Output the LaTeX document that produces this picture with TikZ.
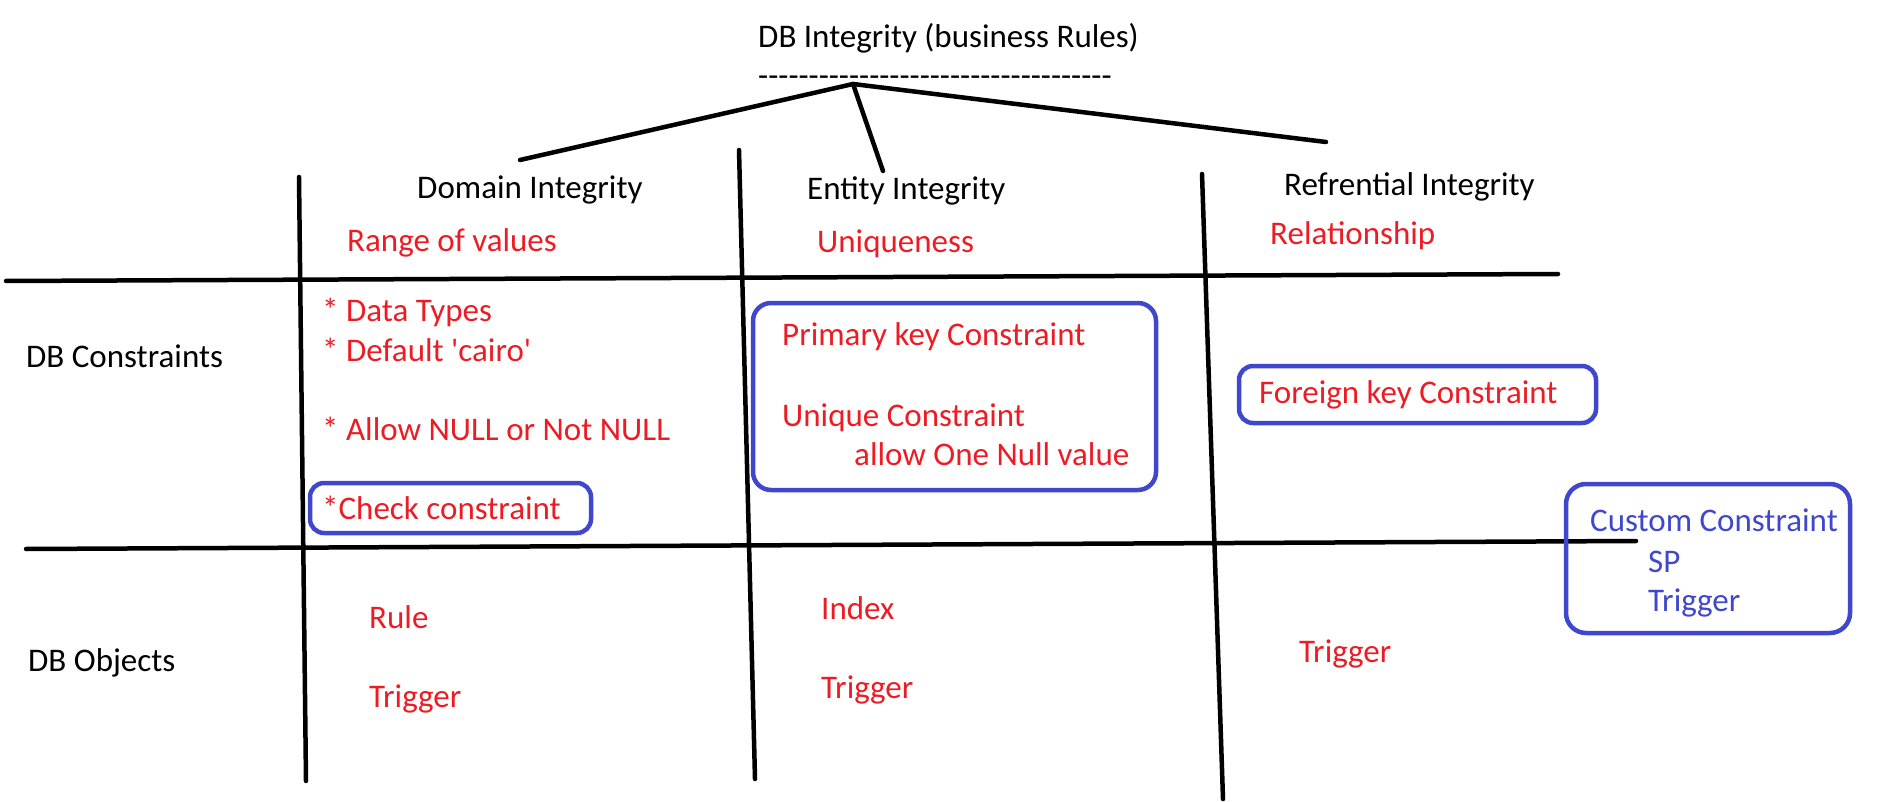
\documentclass[tikz,border=0pt]{standalone}
\usepackage{fontspec}
\newfontfamily\calfont{Carlito}
\definecolor{inkred}{RGB}{237,28,36}
\definecolor{inkblue}{RGB}{63,72,204}
\begin{document}
\begin{tikzpicture}[x=1pt,y=-1pt,
  every node/.style={font=\calfont\fontsize{33}{39}\selectfont, inner sep=0pt, anchor=base west},
  label/.style={text=black},
  item/.style={text=inkred},
  custom/.style={text=inkblue},
  rule/.style={draw=black, line width=4.5pt, line cap=round},
  frame/.style={draw=inkblue, line width=4.5pt, rounded corners=#1},
  frame/.default=16pt]
\useasboundingbox (0,0) rectangle (1884,802);

% title and its underline of hyphens
\node[label] (title) at (758,48) {DB Integrity (business Rules)};
\node[label] (underline) at (758,87) {\foreach \k in {1,...,35}{-\kern0pt}};

% column headings
\node[label] (domain) at (417,199) {Domain Integrity};
\node[label] (entity) at (807,200) {Entity Integrity};
\node[label] (refer)  at (1284,196) {Refrential Integrity};

% branches from the title to the headings
\coordinate (apex) at (853,84);
\coordinate (dtip) at (520,160);
\coordinate (etip) at (883,171);
\coordinate (rtip) at (1326,142);
\draw[rule] (dtip) -- (apex) -- (rtip);
\draw[rule] (apex) -- (etip);

% grid
\coordinate (v1a) at (299,177);  \coordinate (v1b) at (306,781);
\coordinate (v2a) at (739,150);  \coordinate (v2b) at (755,779);
\coordinate (v3a) at (1202,174); \coordinate (v3b) at (1223,799);
\coordinate (h1a) at (6,281);    \coordinate (h1b) at (1558,274);
\coordinate (h2a) at (26,549);   \coordinate (h2b) at (1636,541);
\draw[rule] (v1a) -- (v1b);
\draw[rule] (v2a) -- (v2b);
\draw[rule] (v3a) -- (v3b);
\draw[rule] (h1a) -- (h1b);
\draw[rule] (h2a) -- (h2b);

% row headings
\node[label] (cons) at (26,367) {DB Constraints};
\node[label] (objs) at (28,671) {DB Objects};

% integrity meaning
\node[item] (range)  at (347,252) {Range of values};
\node[item] (uniq)   at (817,253) {Uniqueness};
\node[item] (relat)  at (1270,245) {Relationship};

% domain constraints
\node[item] (dtypes) at (322,321) {* Data Types};
\node[item] (deflt)  at (322,361) {* Default 'cairo'};
\node[item] (nulls)  at (322,440) {* Allow NULL or Not NULL};
\node[item] (check)  at (322,519) {*Check constraint};
\draw[frame=14pt] (310,483) rectangle (591,533);

% entity constraints
\node[item] (pk)     at (782,345) {Primary key Constraint};
\node[item] (uq)     at (782,426) {Unique Constraint};
\node[item] (onenull) at (854,465) {allow One Null value};
\draw[frame=18pt] (753,303) rectangle (1156,490);

% referential constraint
\node[item] (fk)     at (1259,403) {Foreign key Constraint};
\draw[frame=14pt] (1239,366) rectangle (1596,423);

% custom constraint
\node[custom] (cust) at (1590,531) {Custom Constraint};
\node[custom] (sp)   at (1648,572) {SP};
\node[custom] (ctrg) at (1648,611) {Trigger};
\draw[frame=20pt] (1566,484) rectangle (1850,633);

% database objects
\node[item] (rulei)  at (369,628) {Rule};
\node[item] (trg1)   at (369,707) {Trigger};
\node[item] (index)  at (821,619) {Index};
\node[item] (trg2)   at (821,698) {Trigger};
\node[item] (trg3)   at (1299,662) {Trigger};
\end{tikzpicture}
\end{document}
